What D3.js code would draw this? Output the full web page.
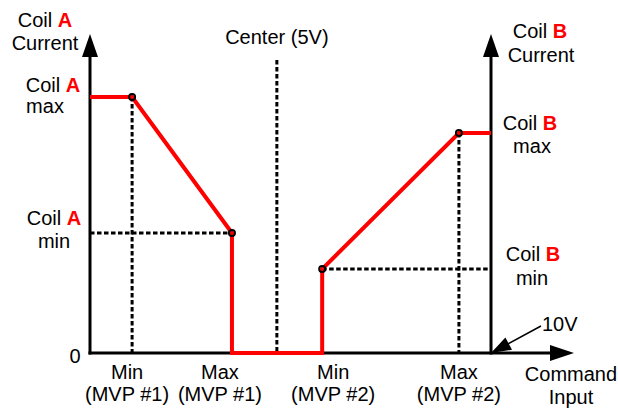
<!DOCTYPE html>
<html>
<head>
<meta charset="utf-8" />
<title>Coil current vs command input</title>
<script src="https://cdn.jsdelivr.net/npm/d3@7"></script>
<style>
  body { margin: 0; background: #fff; }
  svg text { font-family: "Liberation Sans", Arial, sans-serif; font-size: 20px; fill: #000; }
  .red { fill: #ff0000; font-weight: bold; }
</style>
</head>
<body>
<svg id="chart" width="618" height="408"></svg>
<script>
// command input positions (volts)
const xKeys = ["minA", "maxA", "center", "minB", "maxB"];
const xVolts = [1.05, 3.54, 4.66, 5.79, 9.2];
const xLabels = ["Min", "Max", "", "Min", "Max"];
const xSubLabels = ["(MVP #1)", "(MVP #1)", "", "(MVP #2)", "(MVP #2)"];

// coil currents (% of axis)
const coilA = [80, 37.5];     // max, min
const coilB = [26.25, 68.75]; // min, max

// red output trace (volts, current)
const traceX = [0, 1.05, 3.54, 3.54, 5.79, 5.79, 9.2, 10];
const traceY = [80, 80, 37.5, 0, 0, 26.25, 68.75, 68.75];

// label nudges in px (labels are not exactly centred on the guides)
const labelNudge = [-5, -12, 0, 11, 0];

const svg = d3.select("#chart");
const x = d3.scaleLinear().domain([0, 10]).range([90, 491]);
const y = d3.scaleLinear().domain([0, 100]).range([353, 33]);
const vx = k => x(xVolts[xKeys.indexOf(k)]);

// dashed guides
const dash = svg.append("g").attr("stroke", "#000").attr("stroke-width", 3)
  .attr("stroke-dasharray", "4.5,2.5").attr("fill", "none");
dash.append("line").attr("x1", vx("minA")).attr("x2", vx("minA")).attr("y1", y(coilA[0])).attr("y2", y(0));
dash.append("line").attr("x1", vx("maxB")).attr("x2", vx("maxB")).attr("y1", y(coilB[1])).attr("y2", y(0));
dash.append("line").attr("x1", vx("center")).attr("x2", vx("center")).attr("y1", 60).attr("y2", y(0));
dash.append("line").attr("x1", x(0)).attr("x2", vx("maxA")).attr("y1", y(coilA[1])).attr("y2", y(coilA[1]));
dash.append("line").attr("x1", vx("minB")).attr("x2", x(10)).attr("y1", y(coilB[0])).attr("y2", y(coilB[0]));

// axes
const ax = svg.append("g").attr("stroke", "#000").attr("stroke-width", 3);
ax.append("line").attr("x1", x(0)).attr("x2", x(0)).attr("y1", y(0) + 1.5).attr("y2", 55);
ax.append("line").attr("x1", x(10)).attr("x2", x(10)).attr("y1", y(0) + 1.5).attr("y2", 55);
ax.append("line").attr("x1", x(0) - 1.5).attr("x2", 552).attr("y1", y(0)).attr("y2", y(0));
const heads = svg.append("g").attr("fill", "#000");
[x(0), x(10)].forEach(px => {
  heads.append("path").attr("d", `M${px},34 L${px - 8},57 L${px + 8},57 Z`);
});
heads.append("path").attr("d", `M574,${y(0)} L550,${y(0) - 8} L550,${y(0) + 8} Z`);

// red trace
const line = d3.line().x(d => x(d[0])).y(d => y(d[1]));
svg.append("path").datum(d3.zip(traceX, traceY))
  .attr("d", line).attr("fill", "none").attr("stroke", "#ff0000").attr("stroke-width", 4);

// corner dots
const dots = [[xVolts[0], coilA[0]], [xVolts[1], coilA[1]], [xVolts[3], coilB[0]], [xVolts[4], coilB[1]]];
svg.selectAll(".dot").data(dots).join("circle")
  .attr("cx", d => x(d[0])).attr("cy", d => y(d[1])).attr("r", 3)
  .attr("fill", "none").attr("stroke", "#000").attr("stroke-width", 2);

// 10V pointer
svg.append("line").attr("x1", 541).attr("y1", 326).attr("x2", 506).attr("y2", 345)
  .attr("stroke", "#000").attr("stroke-width", 1.5);
svg.append("path").attr("d", "M491,353 L505.4,337.4 L512,349.8 Z").attr("fill", "#000");

// text helper
function label(px, py, parts, anchor) {
  const t = svg.append("text").attr("x", px).attr("y", py).attr("text-anchor", anchor || "middle");
  parts.forEach(p => {
    const s = t.append("tspan").text(p[0]);
    if (p[1]) s.attr("class", "red");
  });
  return t;
}

label(45, 27, [["Coil "], ["A", 1]]);
label(45, 50, [["Current"]]);
label(53, 92, [["Coil "], ["A", 1]]);
label(45, 113, [["max"]]);
label(54, 225, [["Coil "], ["A", 1]]);
label(54, 248, [["min"]]);
label(75, 363, [["0"]]);

label(540, 38, [["Coil "], ["B", 1]]);
label(541, 62, [["Current"]]);
label(530, 130, [["Coil "], ["B", 1]]);
label(532, 153, [["max"]]);
label(533, 261, [["Coil "], ["B", 1]]);
label(532, 285, [["min"]]);
label(542, 331, [["10V"]], "start");

label(x(xVolts[2]), 44, [["Center (5V)"]]);

xKeys.forEach((k, i) => {
  if (!xLabels[i]) return;
  label(vx(k) + labelNudge[i], 379, [[xLabels[i]]]);
  label(vx(k) + labelNudge[i], 401, [[xSubLabels[i]]]);
});
label(571, 381, [["Command"]]);
label(571, 404, [["Input"]]);
</script>
</body>
</html>
